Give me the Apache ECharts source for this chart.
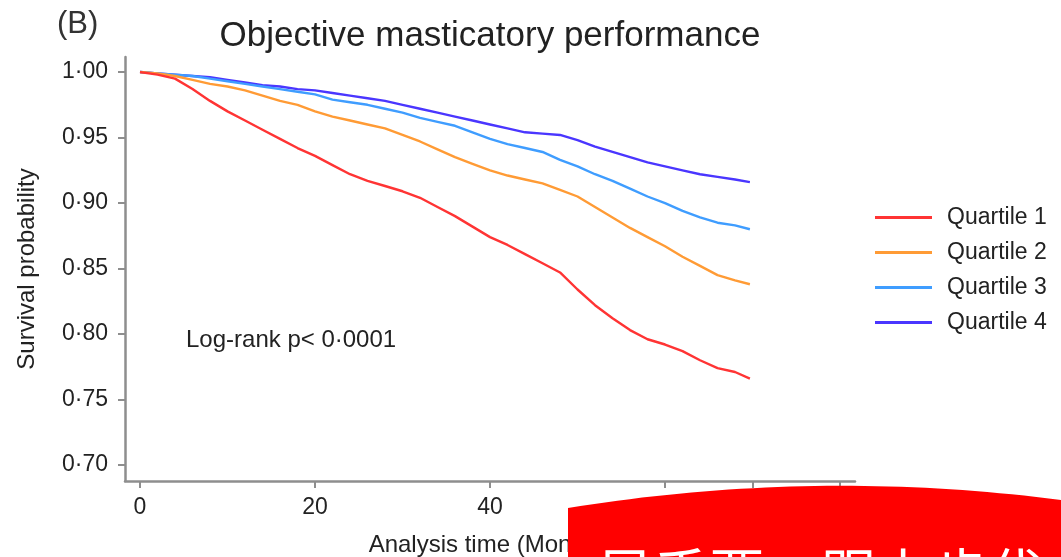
<!DOCTYPE html>
<html>
<head>
<meta charset="utf-8">
<script src="https://cdn.jsdelivr.net/npm/echarts@6/dist/echarts.min.js"></script>
<style>
  html, body { margin: 0; padding: 0; background: #fff; }
</style>
</head>
<body>
<div id="container" style="width: 1061px; height: 557px;"></div>
<script>
    // analysis time in months
    var months = [0, 2, 4, 6, 8, 10, 12, 14, 16, 18, 20, 22, 24, 26, 28, 30, 32, 34,
        36, 38, 40, 42, 44, 46, 48, 50, 52, 54, 56, 58, 60, 62, 64, 66, 68, 69.7];

    var quartile1 = [1.000, 0.998, 0.995, 0.987, 0.978, 0.970, 0.963, 0.956, 0.949, 0.942,
        0.936, 0.929, 0.922, 0.917, 0.913, 0.909, 0.904, 0.897, 0.890, 0.882, 0.874,
        0.868, 0.861, 0.854, 0.847, 0.834, 0.822, 0.812, 0.803, 0.796, 0.792, 0.787,
        0.780, 0.774, 0.771, 0.766];
    var quartile2 = [1.000, 0.999, 0.997, 0.994, 0.991, 0.989, 0.986, 0.982, 0.978, 0.975,
        0.970, 0.966, 0.963, 0.960, 0.957, 0.952, 0.947, 0.941, 0.935, 0.930, 0.925,
        0.921, 0.918, 0.915, 0.910, 0.905, 0.897, 0.889, 0.881, 0.874, 0.867, 0.859,
        0.852, 0.845, 0.841, 0.838];
    var quartile3 = [1.000, 0.999, 0.998, 0.997, 0.995, 0.993, 0.991, 0.989, 0.987, 0.985,
        0.983, 0.979, 0.977, 0.975, 0.972, 0.969, 0.965, 0.962, 0.959, 0.954, 0.949,
        0.945, 0.942, 0.939, 0.933, 0.928, 0.922, 0.917, 0.911, 0.905, 0.900, 0.894,
        0.889, 0.885, 0.883, 0.880];
    var quartile4 = [1.000, 0.999, 0.998, 0.997, 0.996, 0.994, 0.992, 0.990, 0.989, 0.987,
        0.986, 0.984, 0.982, 0.980, 0.978, 0.975, 0.972, 0.969, 0.966, 0.963, 0.960,
        0.957, 0.954, 0.953, 0.952, 0.948, 0.943, 0.939, 0.935, 0.931, 0.928, 0.925,
        0.922, 0.920, 0.918, 0.916];

    var seriesNames = ['Quartile 1', 'Quartile 2', 'Quartile 3', 'Quartile 4'];
    var xTicks = [0, 20, 40, 60, 70, 80];
    var xLabels = [0, 20, 40, 60, 80];
    var yTicks = [0.70, 0.75, 0.80, 0.85, 0.90, 0.95, 1.00];

    function pairs(ys) {
        return months.map(function (m, i) { return [m, ys[i]]; });
    }

    // curved top of the red banner at the bottom right
    function bannerPoints() {
        var pts = [];
        for (var k = 0; k <= 40; k++) {
            var t = k / 40;
            var x = (1 - t) * (1 - t) * 568 + 2 * t * (1 - t) * 815 + t * t * 1061;
            var y = (1 - t) * (1 - t) * 508 + 2 * t * (1 - t) * 468 + t * t * 500;
            pts.push([x, y]);
        }
        pts.push([1061, 557], [568, 557]);
        return pts;
    }

    var colors = ['#ff3434', '#ff9b35', '#3f9dff', '#4a36ff'];
    var font = 'Liberation Sans, Arial, sans-serif';
    var axisGrey = '#8e8e8e';

    var myChart = echarts.init(document.getElementById('container'));

    var option = {
        animation: false,
        color: colors,
        textStyle: { fontFamily: font, color: '#222' },
        title: {
            text: 'Objective masticatory performance',
            left: 485,
            top: 14,
            textAlign: 'center',
            textStyle: { fontFamily: font, fontSize: 35, fontWeight: 'normal', color: '#222' }
        },
        legend: {
            orient: 'vertical',
            left: 870,
            top: 201,
            icon: 'rect',
            itemWidth: 57,
            itemHeight: 3,
            itemGap: 12,
            data: seriesNames,
            textStyle: { fontFamily: font, fontSize: 23, color: '#222', padding: [0, 0, 0, 10] }
        },
        grid: {
            left: 125, right: 206, top: 57, bottom: 76,
            containLabel: false,
            outerBoundsMode: 'none'
        },
        xAxis: {
            type: 'value',
            min: -1.714,
            max: 81.71,
            name: 'Analysis time (Months)',
            nameLocation: 'middle',
            nameGap: 52,
            nameTextStyle: { fontFamily: font, fontSize: 24, color: '#222' },
            axisLine: { onZero: false, lineStyle: { color: axisGrey, width: 2.5 } },
            axisTick: { show: true, length: 7, customValues: xTicks, lineStyle: { color: axisGrey, width: 2 } },
            axisLabel: { customValues: xLabels, margin: 15, fontSize: 23, color: '#222' },
            splitLine: { show: false }
        },
        yAxis: {
            type: 'value',
            min: 0.6878,
            max: 1.0115,
            name: 'Survival probability',
            nameLocation: 'middle',
            nameGap: 86,
            nameTextStyle: { fontFamily: font, fontSize: 24, color: '#222' },
            axisLine: { show: true, onZero: false, lineStyle: { color: axisGrey, width: 2.5 } },
            axisTick: { show: true, length: 7, customValues: yTicks, lineStyle: { color: axisGrey, width: 2 } },
            axisLabel: {
                customValues: yTicks,
                margin: 17,
                fontSize: 23,
                color: '#222',
                formatter: function (v) { return v.toFixed(2).replace('.', '·'); }
            },
            splitLine: { show: false }
        },
        series: [quartile1, quartile2, quartile3, quartile4].map(function (d, i) {
            return {
                name: seriesNames[i],
                type: 'line',
                data: pairs(d),
                showSymbol: false,
                lineStyle: { width: 2.4 },
                z: 4 - i
            };
        }),
        graphic: [
            {
                type: 'text',
                left: 57,
                top: 9,
                style: { text: '(B)', fontFamily: font, fontSize: 31, fill: '#333' }
            },
            {
                type: 'text',
                left: 186,
                top: 328,
                style: { text: 'Log-rank p< 0·0001', fontFamily: font, fontSize: 24, fill: '#222' }
            },
            {
                type: 'polygon',
                z: 100,
                shape: { points: bannerPoints() },
                style: { fill: '#ff0000' }
            },
            {
                type: 'text',
                z: 101,
                left: 597,
                top: 546,
                style: { text: '早手要，跟上步伐', fontFamily: 'Noto Sans CJK SC', fontSize: 56, fill: '#fff' }
            }
        ]
    };

    myChart.setOption(option);
</script>
</body>
</html>
